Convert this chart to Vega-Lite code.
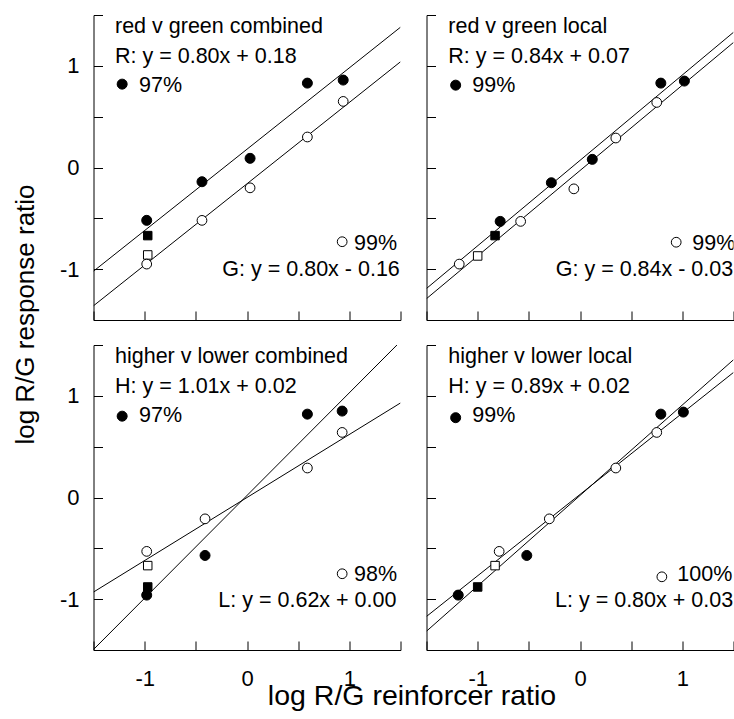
{
  "$schema": "https://vega.github.io/schema/vega-lite/v6.json",
  "padding": {"left": 11.5, "top": 4, "right": 0, "bottom": 0},
  "background": "white",
  "config": {
    "view": {"stroke": null},
    "axis": {
      "domainColor": "black", "tickColor": "black", "labelColor": "black", "titleColor": "black",
      "labelFont": "Liberation Sans", "titleFont": "Liberation Sans", "titleFontWeight": "normal",
      "labelFontSize": 22, "grid": false, "tickSize": -9, "domainWidth": 1, "tickWidth": 1,
      "labelFlush": false, "labelOverlap": false
    }
  },
  "datasets": {
    "lines": [
      {"panel": "TL", "series": "R", "x": -1.5, "y": -1.02}, {"panel": "TL", "series": "R", "x": 1.5, "y": 1.38},
      {"panel": "TL", "series": "G", "x": -1.5, "y": -1.36}, {"panel": "TL", "series": "G", "x": 1.5, "y": 1.04},
      {"panel": "TR", "series": "R", "x": -1.5, "y": -1.19}, {"panel": "TR", "series": "R", "x": 1.5, "y": 1.33},
      {"panel": "TR", "series": "G", "x": -1.5, "y": -1.29}, {"panel": "TR", "series": "G", "x": 1.5, "y": 1.23},
      {"panel": "BL", "series": "H", "x": -1.5, "y": -1.495}, {"panel": "BL", "series": "H", "x": 1.5, "y": 1.535},
      {"panel": "BL", "series": "L", "x": -1.5, "y": -0.93}, {"panel": "BL", "series": "L", "x": 1.5, "y": 0.93},
      {"panel": "BR", "series": "H", "x": -1.5, "y": -1.315}, {"panel": "BR", "series": "H", "x": 1.5, "y": 1.355},
      {"panel": "BR", "series": "L", "x": -1.5, "y": -1.17}, {"panel": "BR", "series": "L", "x": 1.5, "y": 1.23}
    ],
    "points": [
      {"panel": "TL", "marker": "filled circle", "x": -0.98, "y": -0.52},
      {"panel": "TL", "marker": "filled circle", "x": -0.44, "y": -0.14},
      {"panel": "TL", "marker": "filled circle", "x": 0.03, "y": 0.09},
      {"panel": "TL", "marker": "filled circle", "x": 0.59, "y": 0.83},
      {"panel": "TL", "marker": "filled circle", "x": 0.94, "y": 0.86},
      {"panel": "TL", "marker": "filled square", "x": -0.97, "y": -0.67},
      {"panel": "TL", "marker": "open square", "x": -0.97, "y": -0.86},
      {"panel": "TL", "marker": "open circle", "x": -0.98, "y": -0.95},
      {"panel": "TL", "marker": "open circle", "x": -0.44, "y": -0.52},
      {"panel": "TL", "marker": "open circle", "x": 0.03, "y": -0.2},
      {"panel": "TL", "marker": "open circle", "x": 0.59, "y": 0.3},
      {"panel": "TL", "marker": "open circle", "x": 0.94, "y": 0.65},

      {"panel": "TR", "marker": "filled circle", "x": -0.78, "y": -0.53},
      {"panel": "TR", "marker": "filled circle", "x": -0.28, "y": -0.15},
      {"panel": "TR", "marker": "filled circle", "x": 0.12, "y": 0.08},
      {"panel": "TR", "marker": "filled circle", "x": 0.79, "y": 0.83},
      {"panel": "TR", "marker": "filled circle", "x": 1.02, "y": 0.85},
      {"panel": "TR", "marker": "filled square", "x": -0.83, "y": -0.67},
      {"panel": "TR", "marker": "open square", "x": -1.0, "y": -0.87},
      {"panel": "TR", "marker": "open circle", "x": -1.18, "y": -0.95},
      {"panel": "TR", "marker": "open circle", "x": -0.58, "y": -0.53},
      {"panel": "TR", "marker": "open circle", "x": -0.06, "y": -0.21},
      {"panel": "TR", "marker": "open circle", "x": 0.35, "y": 0.29},
      {"panel": "TR", "marker": "open circle", "x": 0.75, "y": 0.64},

      {"panel": "BL", "marker": "filled circle", "x": -0.98, "y": -0.96},
      {"panel": "BL", "marker": "filled circle", "x": -0.41, "y": -0.57},
      {"panel": "BL", "marker": "filled circle", "x": 0.59, "y": 0.82},
      {"panel": "BL", "marker": "filled circle", "x": 0.93, "y": 0.85},
      {"panel": "BL", "marker": "filled square", "x": -0.97, "y": -0.88},
      {"panel": "BL", "marker": "open square", "x": -0.97, "y": -0.67},
      {"panel": "BL", "marker": "open circle", "x": -0.98, "y": -0.53},
      {"panel": "BL", "marker": "open circle", "x": -0.41, "y": -0.21},
      {"panel": "BL", "marker": "open circle", "x": 0.59, "y": 0.29},
      {"panel": "BL", "marker": "open circle", "x": 0.93, "y": 0.64},

      {"panel": "BR", "marker": "filled circle", "x": -1.19, "y": -0.96},
      {"panel": "BR", "marker": "filled circle", "x": -0.52, "y": -0.57},
      {"panel": "BR", "marker": "filled circle", "x": 0.79, "y": 0.82},
      {"panel": "BR", "marker": "filled circle", "x": 1.01, "y": 0.84},
      {"panel": "BR", "marker": "filled square", "x": -1.0, "y": -0.88},
      {"panel": "BR", "marker": "open square", "x": -0.83, "y": -0.67},
      {"panel": "BR", "marker": "open circle", "x": -0.79, "y": -0.53},
      {"panel": "BR", "marker": "open circle", "x": -0.3, "y": -0.21},
      {"panel": "BR", "marker": "open circle", "x": 0.35, "y": 0.29},
      {"panel": "BR", "marker": "open circle", "x": 0.75, "y": 0.64}
    ],
    "keys": [
      {"panel": "TL", "marker": "filled circle", "x": -1.22, "y": 0.82},
      {"panel": "TL", "marker": "open circle", "x": 0.93, "y": -0.73},
      {"panel": "TR", "marker": "filled circle", "x": -1.215, "y": 0.81},
      {"panel": "TR", "marker": "open circle", "x": 0.94, "y": -0.735},
      {"panel": "BL", "marker": "filled circle", "x": -1.22, "y": 0.8},
      {"panel": "BL", "marker": "open circle", "x": 0.93, "y": -0.75},
      {"panel": "BR", "marker": "filled circle", "x": -1.215, "y": 0.785},
      {"panel": "BR", "marker": "open circle", "x": 0.8, "y": -0.78}
    ],
    "labels": [
      {"panel": "TL", "x": -1.29, "y": 1.32, "label": "red v green combined"},
      {"panel": "TL", "x": -1.29, "y": 1.025, "label": "R: y = 0.80x + 0.18"},
      {"panel": "TL", "x": -1.055, "y": 0.745, "label": "97%"},
      {"panel": "TL", "x": 1.046, "y": -0.81, "label": "99%"},
      {"panel": "TL", "x": -0.241, "y": -1.065, "label": "G: y = 0.80x - 0.16"},
      {"panel": "TR", "x": -1.287, "y": 1.32, "label": "red v green local"},
      {"panel": "TR", "x": -1.287, "y": 1.025, "label": "R: y = 0.84x + 0.07"},
      {"panel": "TR", "x": -1.052, "y": 0.745, "label": "99%"},
      {"panel": "TR", "x": 1.097, "y": -0.81, "label": "99%"},
      {"panel": "TR", "x": -0.237, "y": -1.065, "label": "G: y = 0.84x - 0.03"},
      {"panel": "BL", "x": -1.29, "y": 1.32, "label": "higher v lower combined"},
      {"panel": "BL", "x": -1.29, "y": 1.025, "label": "H: y = 1.01x + 0.02"},
      {"panel": "BL", "x": -1.055, "y": 0.745, "label": "97%"},
      {"panel": "BL", "x": 1.046, "y": -0.825, "label": "98%"},
      {"panel": "BL", "x": -0.28, "y": -1.075, "label": "L: y = 0.62x + 0.00"},
      {"panel": "BR", "x": -1.287, "y": 1.32, "label": "higher v lower local"},
      {"panel": "BR", "x": -1.287, "y": 1.025, "label": "H: y = 0.89x + 0.02"},
      {"panel": "BR", "x": -1.052, "y": 0.745, "label": "99%"},
      {"panel": "BR", "x": 0.951, "y": -0.825, "label": "100%"},
      {"panel": "BR", "x": -0.244, "y": -1.075, "label": "L: y = 0.80x + 0.03"}
    ]
  },
  "bounds": "flush",
  "columns": 2,
  "spacing": {"row": 25, "column": 26},
  "concat": [
    {
      "width": 307, "height": 305,
      "encoding": {
        "x": {"field": "x", "type": "quantitative", "scale": {"domain": [-1.5, 1.5], "nice": false, "zero": false},
              "axis": {"values": [-1.5, -1, -0.5, 0, 0.5, 1, 1.5], "labels": false, "title": null, "tickSize": -9}},
        "y": {"field": "y", "type": "quantitative", "scale": {"domain": [-1.5, 1.5], "nice": false, "zero": false},
              "axis": {"values": [-1.5, -1, -0.5, 0, 0.5, 1, 1.5], "tickSize": -9, "labelPadding": 23.5,
                       "labelExpr": "datum.value == 1 ? '1' : datum.value == 0 ? '0' : datum.value == -1 ? '-1' : ''",
                       "title": "log R/G response ratio", "titleFontSize": 26, "titleAngle": -90,
                       "titleX": -60.5, "titleY": 299, "titleAlign": "center", "titleBaseline": "alphabetic"}}
      },
      "layer": [
        {"data": {"name": "lines"}, "transform": [{"filter": "datum.panel == 'TL'"}],
         "mark": {"type": "line", "clip": true, "color": "black", "strokeWidth": 1},
         "encoding": {"detail": {"field": "series"}}},
        {"data": {"name": "points"}, "transform": [{"filter": "datum.panel == 'TL'"}],
         "mark": {"type": "point", "opacity": 1, "fillOpacity": 1, "stroke": "black", "strokeWidth": 1},
         "encoding": {
           "shape": {"field": "marker", "scale": {"domain": ["filled circle", "open circle", "filled square", "open square"], "range": ["circle", "circle", "square", "square"]}, "legend": null},
           "fill": {"field": "marker", "scale": {"domain": ["filled circle", "open circle", "filled square", "open square"], "range": ["black", "white", "black", "white"]}, "legend": null},
           "size": {"field": "marker", "type": "nominal", "scale": {"type": "ordinal", "domain": ["filled circle", "open circle", "filled square", "open square"], "range": [100, 95, 72, 72]}, "legend": null}}},
        {"data": {"name": "keys"}, "transform": [{"filter": "datum.panel == 'TL'"}],
         "mark": {"type": "point", "opacity": 1, "fillOpacity": 1, "stroke": "black", "strokeWidth": 1},
         "encoding": {
           "shape": {"field": "marker", "scale": {"domain": ["filled circle", "open circle", "filled square", "open square"], "range": ["circle", "circle", "square", "square"]}, "legend": null},
           "fill": {"field": "marker", "scale": {"domain": ["filled circle", "open circle", "filled square", "open square"], "range": ["black", "white", "black", "white"]}, "legend": null},
           "size": {"field": "marker", "type": "nominal", "scale": {"type": "ordinal", "domain": ["filled circle", "open circle", "filled square", "open square"], "range": [100, 95, 72, 72]}, "legend": null}}},
        {"data": {"name": "labels"}, "transform": [{"filter": "datum.panel == 'TL'"}],
         "mark": {"type": "text", "align": "left", "baseline": "alphabetic", "font": "Liberation Sans", "fontSize": 21.5, "color": "black", "clip": true},
         "encoding": {"text": {"field": "label"}}}
      ]
    },
    {
      "width": 307, "height": 305,
      "encoding": {
        "x": {"field": "x", "type": "quantitative", "scale": {"domain": [-1.5, 1.5], "nice": false, "zero": false},
              "axis": {"values": [-1.5, -1, -0.5, 0, 0.5, 1, 1.5], "labels": false, "title": null, "tickSize": -9}},
        "y": {"field": "y", "type": "quantitative", "scale": {"domain": [-1.5, 1.5], "nice": false, "zero": false},
              "axis": {"values": [-1.5, -1, -0.5, 0, 0.5, 1, 1.5], "labels": false, "title": null, "tickSize": -9}}
      },
      "layer": [
        {"data": {"name": "lines"}, "transform": [{"filter": "datum.panel == 'TR'"}],
         "mark": {"type": "line", "clip": true, "color": "black", "strokeWidth": 1},
         "encoding": {"detail": {"field": "series"}}},
        {"data": {"name": "points"}, "transform": [{"filter": "datum.panel == 'TR'"}],
         "mark": {"type": "point", "opacity": 1, "fillOpacity": 1, "stroke": "black", "strokeWidth": 1},
         "encoding": {
           "shape": {"field": "marker", "scale": {"domain": ["filled circle", "open circle", "filled square", "open square"], "range": ["circle", "circle", "square", "square"]}, "legend": null},
           "fill": {"field": "marker", "scale": {"domain": ["filled circle", "open circle", "filled square", "open square"], "range": ["black", "white", "black", "white"]}, "legend": null},
           "size": {"field": "marker", "type": "nominal", "scale": {"type": "ordinal", "domain": ["filled circle", "open circle", "filled square", "open square"], "range": [100, 95, 72, 72]}, "legend": null}}},
        {"data": {"name": "keys"}, "transform": [{"filter": "datum.panel == 'TR'"}],
         "mark": {"type": "point", "opacity": 1, "fillOpacity": 1, "stroke": "black", "strokeWidth": 1},
         "encoding": {
           "shape": {"field": "marker", "scale": {"domain": ["filled circle", "open circle", "filled square", "open square"], "range": ["circle", "circle", "square", "square"]}, "legend": null},
           "fill": {"field": "marker", "scale": {"domain": ["filled circle", "open circle", "filled square", "open square"], "range": ["black", "white", "black", "white"]}, "legend": null},
           "size": {"field": "marker", "type": "nominal", "scale": {"type": "ordinal", "domain": ["filled circle", "open circle", "filled square", "open square"], "range": [100, 95, 72, 72]}, "legend": null}}},
        {"data": {"name": "labels"}, "transform": [{"filter": "datum.panel == 'TR'"}],
         "mark": {"type": "text", "align": "left", "baseline": "alphabetic", "font": "Liberation Sans", "fontSize": 21.5, "color": "black", "clip": true},
         "encoding": {"text": {"field": "label"}}}
      ]
    },
    {
      "width": 307, "height": 305,
      "encoding": {
        "x": {"field": "x", "type": "quantitative", "scale": {"domain": [-1.5, 1.5], "nice": false, "zero": false},
              "axis": {"values": [-1.5, -1, -0.5, 0, 0.5, 1, 1.5], "tickSize": -9, "labelPadding": 27, "labelBaseline": "top",
                       "labelExpr": "datum.value == 1 ? '1' : datum.value == 0 ? '0' : datum.value == -1 ? '-1' : ''",
                       "title": "log R/G reinforcer ratio", "titleFontSize": 28.5,
                       "titleX": 318, "titleY": 54.7, "titleAlign": "center", "titleBaseline": "alphabetic"}},
        "y": {"field": "y", "type": "quantitative", "scale": {"domain": [-1.5, 1.5], "nice": false, "zero": false},
              "axis": {"values": [-1.5, -1, -0.5, 0, 0.5, 1, 1.5], "tickSize": -9, "labelPadding": 23.5,
                       "labelExpr": "datum.value == 1 ? '1' : datum.value == 0 ? '0' : datum.value == -1 ? '-1' : ''",
                       "title": null}}
      },
      "layer": [
        {"data": {"name": "lines"}, "transform": [{"filter": "datum.panel == 'BL'"}],
         "mark": {"type": "line", "clip": true, "color": "black", "strokeWidth": 1},
         "encoding": {"detail": {"field": "series"}}},
        {"data": {"name": "points"}, "transform": [{"filter": "datum.panel == 'BL'"}],
         "mark": {"type": "point", "opacity": 1, "fillOpacity": 1, "stroke": "black", "strokeWidth": 1},
         "encoding": {
           "shape": {"field": "marker", "scale": {"domain": ["filled circle", "open circle", "filled square", "open square"], "range": ["circle", "circle", "square", "square"]}, "legend": null},
           "fill": {"field": "marker", "scale": {"domain": ["filled circle", "open circle", "filled square", "open square"], "range": ["black", "white", "black", "white"]}, "legend": null},
           "size": {"field": "marker", "type": "nominal", "scale": {"type": "ordinal", "domain": ["filled circle", "open circle", "filled square", "open square"], "range": [100, 95, 72, 72]}, "legend": null}}},
        {"data": {"name": "keys"}, "transform": [{"filter": "datum.panel == 'BL'"}],
         "mark": {"type": "point", "opacity": 1, "fillOpacity": 1, "stroke": "black", "strokeWidth": 1},
         "encoding": {
           "shape": {"field": "marker", "scale": {"domain": ["filled circle", "open circle", "filled square", "open square"], "range": ["circle", "circle", "square", "square"]}, "legend": null},
           "fill": {"field": "marker", "scale": {"domain": ["filled circle", "open circle", "filled square", "open square"], "range": ["black", "white", "black", "white"]}, "legend": null},
           "size": {"field": "marker", "type": "nominal", "scale": {"type": "ordinal", "domain": ["filled circle", "open circle", "filled square", "open square"], "range": [100, 95, 72, 72]}, "legend": null}}},
        {"data": {"name": "labels"}, "transform": [{"filter": "datum.panel == 'BL'"}],
         "mark": {"type": "text", "align": "left", "baseline": "alphabetic", "font": "Liberation Sans", "fontSize": 21.5, "color": "black", "clip": true},
         "encoding": {"text": {"field": "label"}}}
      ]
    },
    {
      "width": 307, "height": 305,
      "encoding": {
        "x": {"field": "x", "type": "quantitative", "scale": {"domain": [-1.5, 1.5], "nice": false, "zero": false},
              "axis": {"values": [-1.5, -1, -0.5, 0, 0.5, 1, 1.5], "tickSize": -9, "labelPadding": 27, "labelBaseline": "top",
                       "labelExpr": "datum.value == 1 ? '1' : datum.value == 0 ? '0' : datum.value == -1 ? '-1' : ''",
                       "title": null}},
        "y": {"field": "y", "type": "quantitative", "scale": {"domain": [-1.5, 1.5], "nice": false, "zero": false},
              "axis": {"values": [-1.5, -1, -0.5, 0, 0.5, 1, 1.5], "labels": false, "title": null, "tickSize": -9}}
      },
      "layer": [
        {"data": {"name": "lines"}, "transform": [{"filter": "datum.panel == 'BR'"}],
         "mark": {"type": "line", "clip": true, "color": "black", "strokeWidth": 1},
         "encoding": {"detail": {"field": "series"}}},
        {"data": {"name": "points"}, "transform": [{"filter": "datum.panel == 'BR'"}],
         "mark": {"type": "point", "opacity": 1, "fillOpacity": 1, "stroke": "black", "strokeWidth": 1},
         "encoding": {
           "shape": {"field": "marker", "scale": {"domain": ["filled circle", "open circle", "filled square", "open square"], "range": ["circle", "circle", "square", "square"]}, "legend": null},
           "fill": {"field": "marker", "scale": {"domain": ["filled circle", "open circle", "filled square", "open square"], "range": ["black", "white", "black", "white"]}, "legend": null},
           "size": {"field": "marker", "type": "nominal", "scale": {"type": "ordinal", "domain": ["filled circle", "open circle", "filled square", "open square"], "range": [100, 95, 72, 72]}, "legend": null}}},
        {"data": {"name": "keys"}, "transform": [{"filter": "datum.panel == 'BR'"}],
         "mark": {"type": "point", "opacity": 1, "fillOpacity": 1, "stroke": "black", "strokeWidth": 1},
         "encoding": {
           "shape": {"field": "marker", "scale": {"domain": ["filled circle", "open circle", "filled square", "open square"], "range": ["circle", "circle", "square", "square"]}, "legend": null},
           "fill": {"field": "marker", "scale": {"domain": ["filled circle", "open circle", "filled square", "open square"], "range": ["black", "white", "black", "white"]}, "legend": null},
           "size": {"field": "marker", "type": "nominal", "scale": {"type": "ordinal", "domain": ["filled circle", "open circle", "filled square", "open square"], "range": [100, 95, 72, 72]}, "legend": null}}},
        {"data": {"name": "labels"}, "transform": [{"filter": "datum.panel == 'BR'"}],
         "mark": {"type": "text", "align": "left", "baseline": "alphabetic", "font": "Liberation Sans", "fontSize": 21.5, "color": "black", "clip": true},
         "encoding": {"text": {"field": "label"}}}
      ]
    }
  ]
}
